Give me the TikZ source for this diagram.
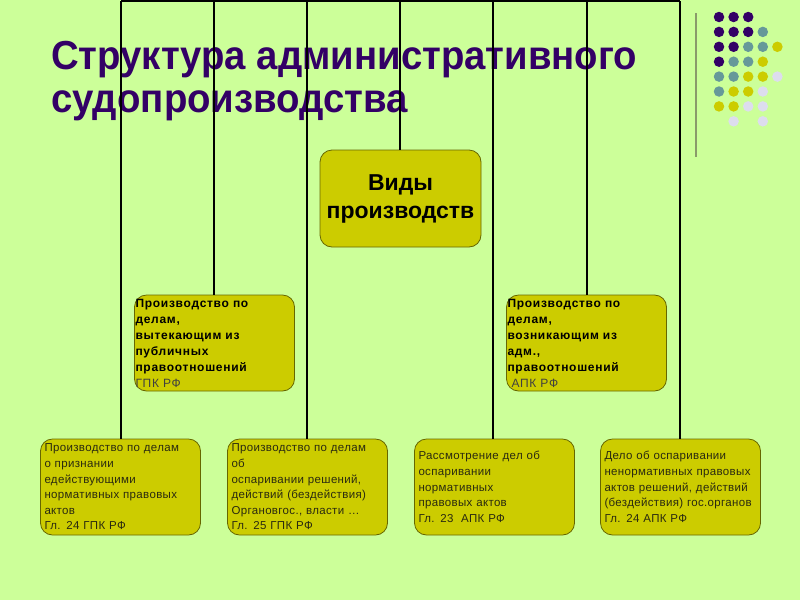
\documentclass[tikz,border=0pt]{standalone}
\usepackage{fontspec}
\setmainfont{Liberation Sans}
\newfontfamily\lowfont{Liberation Sans}[LetterSpace=3]
\newfontfamily\midfont{Liberation Sans}[LetterSpace=6]
\usepackage{graphicx}
\definecolor{bg}{HTML}{CCFF99}
\definecolor{boxfill}{HTML}{CCCC00}
\definecolor{boxdraw}{HTML}{666600}
\definecolor{titlec}{HTML}{330066}
\definecolor{dotP}{HTML}{330066}
\definecolor{dotT}{HTML}{669999}
\definecolor{dotY}{HTML}{CCCC00}
\definecolor{dotL}{HTML}{DDDDEE}
\definecolor{sidebar}{HTML}{8A9A6A}
\definecolor{boxtext}{HTML}{2A2A10}
\begin{document}
\begin{tikzpicture}[x=1pt,y=-1pt,
  basebox/.style={draw=boxdraw, fill=boxfill, rounded corners=12pt, line width=0.8pt,
    minimum height=96pt, inner ysep=0pt},
  lowbox/.style={basebox, text width=152pt, inner xsep=4pt, align=left,
    font=\lowfont\fontsize{11.5}{15.6}\selectfont, text=boxtext},
  midbox/.style={basebox, text width=158pt, inner xsep=1pt, align=left,
    font=\midfont\fontsize{12}{16}\selectfont\bfseries, text=black},
  topbox/.style={basebox, minimum width=161pt, minimum height=97pt, align=center,
    font=\fontsize{23}{28}\selectfont\bfseries, text=black},
  conn/.style={line width=1.8pt, black},
  titletext/.style={anchor=base west, inner sep=0pt, text=titlec,
    font=\fontsize{40.5}{40.5}\selectfont\bfseries},
  dot/.style={circle, inner sep=0pt, minimum size=10.5pt}
]
\useasboundingbox (0,0) rectangle (800,600);
\fill[bg] (0,0) rectangle (800,600);

% title
\node[titletext] (title1) at (51,69) {\resizebox{586pt}{\height}{Структура административного}};
\node[titletext] (title2) at (51,112) {\resizebox{357pt}{\height}{судопроизводства}};

% boxes
\node[topbox] (vid) at (400.5,198.5) {Виды\\производств};
\node[midbox] (ul) at (214.5,343) {Производство по\\делам,\\вытекающим из\\публичных\\правоотношений\\{\mdseries\color{black!75}ГПК РФ}};
\node[midbox] (ur) at (586.5,343) {Производство по\\делам,\\возникающим из\\адм.,\\правоотношений\\{\mdseries\color{black!75}\ АПК РФ}};
\node[lowbox] (b1) at (120.5,487) {Производство по делам\\о признании\\едействующими\\нормативных правовых\\актов\\Гл. 24 ГПК РФ};
\node[lowbox] (b2) at (307.5,487) {Производство по делам\\об\\оспаривании решений,\\действий (бездействия)\\Органовгос., власти …\\Гл. 25 ГПК РФ};
\node[lowbox] (b3) at (494.5,487) {Рассмотрение дел об\\оспаривании\\нормативных\\правовых актов\\Гл. 23~~АПК РФ};
\node[lowbox] (b4) at (680.5,487) {Дело об оспаривании\\ненормативных правовых\\актов решений, действий\\(бездействия) гос.органов\\Гл. 24 АПК РФ};

% connectors
\coordinate (t1) at (121,1);
\coordinate (t2) at (214,1);
\coordinate (t3) at (307,1);
\coordinate (t4) at (400,1);
\coordinate (t5) at (493,1);
\coordinate (t6) at (587,1);
\coordinate (t7) at (680,1);
\draw[conn] (t1) -- (t7);
\draw[conn] (t1) -- (t1 |- b1.north);
\draw[conn] (t2) -- (t2 |- ul.north);
\draw[conn] (t3) -- (t3 |- b2.north);
\draw[conn] (t4) -- (t4 |- vid.north);
\draw[conn] (t5) -- (t5 |- b3.north);
\draw[conn] (t6) -- (t6 |- ur.north);
\draw[conn] (t7) -- (t7 |- b4.north);

% decoration
\coordinate (sbtop) at (696,13);
\coordinate (sbbot) at (696,157);
\draw[sidebar, line width=2pt] (sbtop) -- (sbbot);
\foreach \r/\row in {0/{P,P,P,N,N},1/{P,P,P,T,N},2/{P,P,T,T,Y},3/{P,T,T,Y,N},4/{T,T,Y,Y,L},5/{T,Y,Y,L,N},6/{Y,Y,L,L,N},7/{N,L,N,L,N}}{
  \foreach \c [count=\i from 0] in \row {
    \if\c N\else
      \node[dot, fill=dot\c] (d\r\i) at ({719+14.6*\i},{17+14.9*\r}) {};
    \fi
  }
}
\end{tikzpicture}
\end{document}
